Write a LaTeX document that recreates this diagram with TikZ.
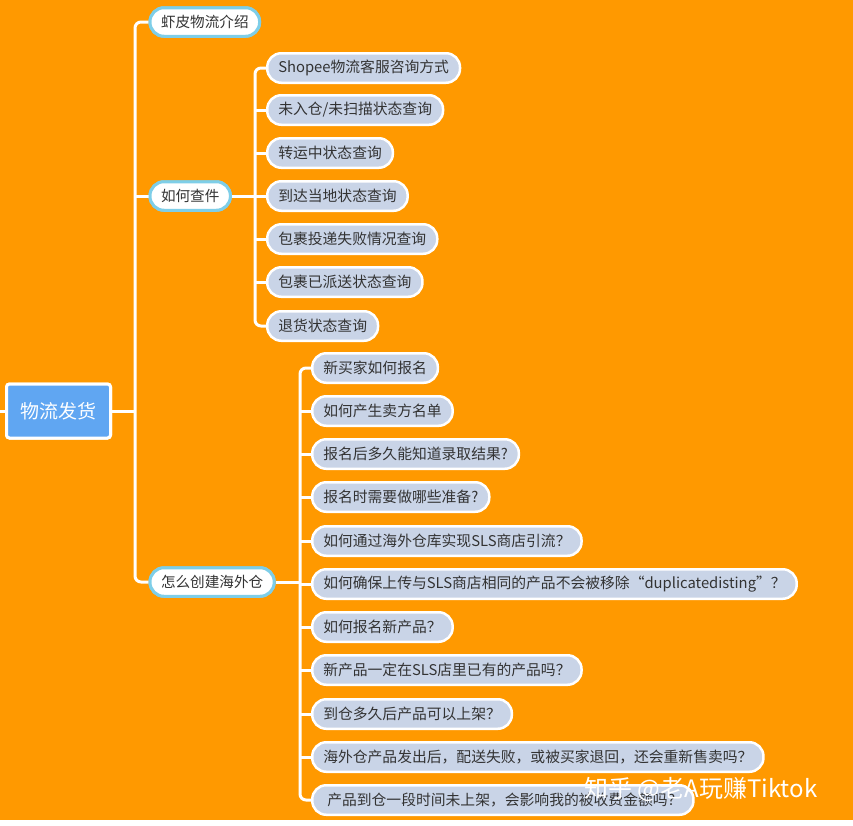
\documentclass[tikz,border=0pt]{standalone}
\usepackage{fontspec}
\setmainfont{Noto Sans CJK SC}
\definecolor{bgorange}{RGB}{255,153,0}
\definecolor{rootblue}{RGB}{96,166,242}
\definecolor{lvcyan}{RGB}{126,206,232}
\definecolor{childfill}{RGB}{201,212,231}
\definecolor{txtgray}{RGB}{51,51,51}
\tikzset{
  rootbox/.style={draw=white, line width=3pt, fill=rootblue, rounded corners=3pt,
    text=white, font=\fontsize{19}{21}\selectfont, minimum width=104pt, minimum height=54pt, inner sep=0pt},
  lonebox/.style={draw=lvcyan, line width=3pt, fill=white, rounded corners=14pt,
    text=txtgray, font=\fontsize{14.6}{16}\selectfont, minimum height=28.5pt, inner xsep=11pt, inner ysep=0pt, anchor=west},
  childbox/.style={draw=white, line width=2.5pt, fill=childfill, rounded corners=14pt,
    text=txtgray, font=\fontsize{14.8}{16}\selectfont, minimum height=29.5pt, inner xsep=11pt, inner ysep=0pt, anchor=west},
  conn/.style={draw=white, line width=3pt},
  rconn/.style={conn, rounded corners=6pt}
}
\begin{document}
\begin{tikzpicture}[x=1pt, y=-1pt]
\useasboundingbox (0,0) rectangle (853,825);
\fill[bgorange] (0,0) rectangle (853,820);
\fill[white] (0,820) rectangle (853,825);

% trunk coordinates
\coordinate (tA) at (135,411);
\coordinate (tB) at (255,196);
\coordinate (tC) at (300,582);
\coordinate (rootin) at (0,411);

% root
\node[rootbox] (root) at (58.5,411) {物流发货};

% level 1
\node[lonebox] (la) at (148.5,22) {虾皮物流介绍};
\node[lonebox] (lb) at (148.5,196) {如何查件};
\node[lonebox] (lc) at (148.5,582) {怎么创建海外仓};

% children of lb
\node[childbox] (b1) at (266,68) {Shopee物流客服咨询方式};
\node[childbox] (b2) at (266,110) {未入仓/未扫描状态查询};
\node[childbox] (b3) at (266,153) {转运中状态查询};
\node[childbox] (b4) at (266,196) {到达当地状态查询};
\node[childbox] (b5) at (266,239) {包裹投递失败情况查询};
\node[childbox] (b6) at (266,282) {包裹已派送状态查询};
\node[childbox] (b7) at (266,326) {退货状态查询};

% children of lc
\node[childbox] (c1) at (311,368) {新买家如何报名};
\node[childbox] (c2) at (311,411) {如何产生卖方名单};
\node[childbox] (c3) at (311,454) {报名后多久能知道录取结果?};
\node[childbox] (c4) at (311,497) {报名时需要做哪些准备?};
\node[childbox] (c5) at (311,541) {如何通过海外仓库实现SLS商店引流？};
\node[childbox] (c6) at (311,584) {如何确保上传与SLS商店相同的产品不会被移除“duplicatedisting”？};
\node[childbox] (c7) at (311,627) {如何报名新产品？};
\node[childbox] (c8) at (311,670) {新产品一定在SLS店里已有的产品吗？};
\node[childbox] (c9) at (311,714) {到仓多久后产品可以上架？};
\node[childbox] (c10) at (311,757) {海外仓产品发出后，配送失败，或被买家退回，还会重新售卖吗？};
\node[childbox] (c11) at (311,800) {\hspace{4pt}产品到仓一段时间未上架，会影响我的被收费金额吗？};

% connectors: root
\draw[conn] (rootin) -- (root.west);
\draw[conn] (root.east) -- (tA);
\draw[rconn] (la.west) -| (tA) |- (lc.west);
\draw[conn] (tA |- lb) -- (lb.west);

% lb branch
\draw[conn] (lb.east) -- (tB);
\draw[rconn] (b1.west) -| (tB) |- (b7.west);
\foreach \n in {b2,b3,b4,b5,b6} { \draw[conn] (tB |- \n) -- (\n.west); }

% lc branch
\draw[conn] (lc.east) -- (tC);
\draw[rconn] (c1.west) -| (tC) |- (c11.west);
\foreach \n in {c2,c3,c4,c5,c6,c7,c8,c9,c10} { \draw[conn] (tC |- \n) -- (\n.west); }

% redraw level-1 and root nodes on top of connectors
\node[rootbox] at (root) {物流发货};
\node[lonebox] at (la.west) {虾皮物流介绍};
\node[lonebox] at (lb.west) {如何查件};
\node[lonebox] at (lc.west) {怎么创建海外仓};

% watermark
\node[anchor=west, text=white, font=\fontsize{24}{26}\selectfont] (wm) at (581,789) {知乎 @老A玩赚Tiktok};
\end{tikzpicture}
\end{document}
